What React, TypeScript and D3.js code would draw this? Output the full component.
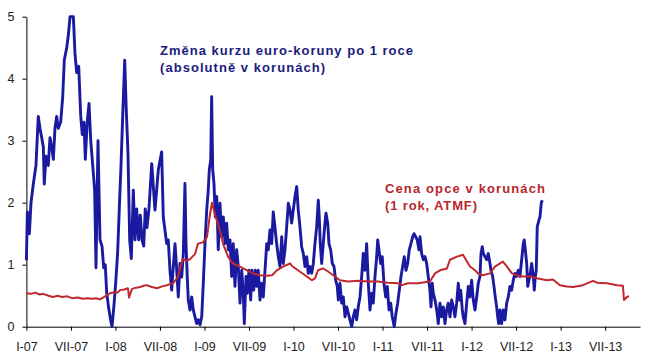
import * as d3 from "d3"
import { useRef, useEffect } from "react"

// months counted from January 2007, values in CZK
const blueSeries: [number, number][] = [
  [0, 1.07], [0.13, 1.85], [0.4, 1.5], [0.62, 2.0], [0.93, 2.3], [1.29, 2.6], [1.6, 3.39], [1.83, 3.2], [2.06, 3.05], [2.28, 2.9], [2.41, 2.3], [2.64, 2.75], [2.95, 2.6], [3.18, 3.05], [3.41, 2.9], [3.63, 2.7], [3.85, 3.2], [4.08, 3.39], [4.3, 3.2], [4.62, 3.3], [4.89, 3.7], [5.11, 4.3], [5.43, 4.5], [5.65, 4.7], [5.88, 5.0], [6.33, 5.0], [6.55, 4.4], [6.78, 4.1], [7.05, 4.2], [7.32, 3.4], [7.53, 3.1], [7.76, 3.3], [7.94, 2.7], [8.2, 3.3], [8.44, 3.6], [8.67, 3.0], [8.94, 2.6], [9.2, 2.2], [9.38, 0.95], [9.65, 3.0], [9.92, 1.4], [10.19, 1.3], [10.42, 0.95], [10.63, 1.0], [10.82, 0.55], [11.09, 0.3], [11.36, 0.1], [11.54, 0], [11.77, 0.3], [12.03, 0.7], [12.3, 1.2], [12.52, 1.9], [12.75, 2.6], [12.98, 3.4], [13.25, 4.3], [13.46, 3.5], [13.69, 2.8], [13.92, 1.4], [14.14, 1.1], [14.41, 2.2], [14.64, 1.4], [14.86, 1.9], [15.13, 1.4], [15.35, 1.8], [15.58, 1.4], [15.81, 1.3], [16.02, 1.9], [16.25, 1.6], [16.52, 1.9],
  [16.89, 2.63], [17.33, 1.88], [17.78, 2.53], [18.23, 2.82], [18.45, 1.77], [18.91, 1.34], [19.12, 1.4], [19.35, 0.91], [19.58, 0.59], [19.8, 0.97], [20.03, 1.34], [20.26, 0.91], [20.47, 0.48], [20.7, 1.02], [20.93, 0.8], [21.15, 1.18], [21.37, 2.31], [21.51, 1.34], [21.68, 0.8], [21.82, 0.43], [22.05, 0.27], [22.28, 0.48], [22.49, 0.27], [22.72, 0.16], [22.95, 0.05], [23.17, 0.11], [23.4, 0.03], [23.63, 0.16], [23.84, 0.7], [24.07, 1.34], [24.3, 1.88], [24.51, 2.2], [24.65, 2.53], [24.84, 2.69], [24.97, 3.71], [25.11, 2.53], [25.28, 2.31], [25.46, 1.77], [25.65, 2.1], [25.86, 1.24], [26.09, 1.99], [26.32, 1.45], [26.54, 1.77], [26.77, 1.34], [26.99, 1.67], [27.21, 1.24], [27.44, 1.4], [27.67, 0.81], [27.88, 1.34], [28.11, 0.65], [28.34, 1.24], [28.56, 0.97], [28.79, 0.38], [29.02, 0.91], [29.23, 0.54], [29.37, 0.05], [29.6, 0.81], [29.77, 0.54], [30.0, 0.91], [30.23, 0.43], [30.4, 0.91], [30.63, 0.59], [30.85, 0.91], [31.04, 0.65], [31.25, 0.91], [31.48, 0.43], [31.71, 0.7], [31.93, 0.48], [32.16, 0.91], [32.39, 1.34], [32.6, 1.24], [32.83, 1.56], [33.06, 1.34], [33.27, 1.85], [33.5, 1.6], [33.73, 1.34], [33.95, 1.13], [34.18, 0.97], [34.41, 1.45], [34.62, 1.02], [34.85, 1.24], [35.08, 1.61], [35.3, 1.99],
  [35.53, 1.88], [35.75, 1.67], [35.97, 1.88], [36.2, 2.1], [36.43, 2.26], [36.64, 1.88], [36.87, 1.61], [37.1, 1.29], [37.32, 1.18], [37.55, 0.97], [37.78, 1.13], [37.99, 0.86], [38.22, 0.97], [38.45, 0.86], [38.67, 1.02], [38.89, 1.34], [39.12, 1.61], [39.34, 2.04], [39.47, 1.77], [39.61, 1.34], [39.8, 1.02], [40.01, 1.34], [40.24, 1.67], [40.38, 1.83], [40.61, 1.67], [40.78, 1.34], [41.01, 1.24], [41.23, 1.02], [41.46, 0.97], [41.68, 0.75], [41.9, 0.65], [42.04, 0.43], [42.26, 0.7], [42.49, 0.38], [42.71, 0.48], [42.94, 0.16], [43.17, 0.32], [43.38, 0.22], [43.61, 0.11], [43.84, 0], [44.06, 0.16], [44.29, 0.27], [44.51, 0.11], [44.73, 0.32], [44.96, 0.48], [45.19, 0.81], [45.4, 1.18], [45.63, 0.91], [45.86, 1.34], [46.08, 0.7], [46.31, 0.27], [46.54, 0.54], [46.75, 0.38], [46.98, 0.81], [47.21, 1.13], [47.35, 1.4], [47.52, 1.24], [47.75, 1.02], [47.96, 1.13], [48.19, 0.7], [48.42, 0.48], [48.64, 0.65], [48.87, 0.27], [49.1, 0.38], [49.31, 0.16], [49.58, 0], [49.81, 0.22], [50.04, 0.38], [50.26, 0.59], [50.49, 0.81], [50.71, 0.97], [50.93, 1.13], [51.16, 0.91], [51.39, 1.02], [51.6, 1.24], [51.83, 1.34], [52.06, 1.45], [52.24, 1.5], [52.47, 1.45], [52.68, 1.4], [52.91, 1.24],
  [53.05, 1.45], [53.27, 1.18], [53.49, 1.08], [53.72, 1.13], [53.95, 1.02], [54.16, 0.81], [54.39, 0.59], [54.53, 0.32], [54.7, 0.7], [54.84, 0.54], [55.07, 0.43], [55.3, 0.27], [55.51, 0.05], [55.74, 0.38], [55.97, 0.16], [56.19, 0.32], [56.41, 0.05], [56.64, 0.27], [56.86, 0.38], [57.09, 0.16], [57.32, 0.43], [57.53, 0.32], [57.76, 0.16], [57.99, 0.38], [58.21, 0.7], [58.34, 0.43], [58.53, 0.59], [58.75, 0.27], [58.88, 0.16], [59.11, 0.05], [59.34, 0.38], [59.56, 0.65], [59.78, 0.48], [60.01, 0.75], [60.23, 0.43], [60.46, 0.27], [60.69, 0.48], [60.9, 0.7], [61.13, 0.81], [61.27, 1.18], [61.44, 1.29], [61.58, 1.18], [61.81, 1.13], [62.04, 1.08], [62.25, 1.18], [62.48, 1.02], [62.61, 0.91], [62.84, 0.81], [63.02, 0.65], [63.19, 0.48], [63.38, 0.32], [63.52, 0.16], [63.65, 0.05], [63.83, 0.27], [64.05, 0.05], [64.27, 0.27], [64.5, 0.11], [64.73, 0.38], [64.95, 0.48], [65.17, 0.65], [65.4, 0.59], [65.62, 0.75], [65.85, 0.86], [66.07, 0.81], [66.29, 0.91], [66.52, 0.81], [66.75, 1.08], [66.97, 1.34], [67.1, 1.4], [67.24, 1.24], [67.43, 1.02], [67.57, 0.65], [67.74, 0.75], [67.91, 0.86], [68.1, 1.02], [68.32, 0.81], [68.45, 0.59], [68.59, 0.81], [68.72, 0.91], [68.85, 1.61], [69.08, 1.72], [69.22, 1.77], [69.39, 1.99], [69.53, 2.04],
]

const redSeries: [number, number][] = [
  [0, 0.54], [0.6, 0.53], [1.2, 0.55], [1.8, 0.52], [2.24, 0.53], [3.0, 0.5], [3.58, 0.48], [4.2, 0.5], [4.8, 0.48], [5.5, 0.49], [6.15, 0.46], [6.9, 0.47], [7.63, 0.45], [8.2, 0.46], [8.8, 0.45], [9.4, 0.46], [9.92, 0.44], [10.32, 0.47], [10.8, 0.5], [11.27, 0.54], [11.94, 0.56], [12.3, 0.55], [12.61, 0.59], [13.2, 0.6], [13.69, 0.62], [13.83, 0.47], [14.23, 0.61], [14.8, 0.63], [15.31, 0.64], [15.8, 0.66], [16.25, 0.67], [16.9, 0.64], [17.6, 0.62], [18.3, 0.65], [18.95, 0.67], [19.76, 0.7], [20.43, 0.8], [20.84, 1.0], [21.1, 1.09], [21.6, 1.06], [22.05, 1.09], [22.72, 1.17], [23.13, 1.34], [23.8, 1.36], [24.34, 1.45], [24.74, 1.81], [25.01, 2.0], [25.42, 1.81], [26.09, 1.55], [26.5, 1.34], [27.17, 1.13], [27.84, 1.02], [28.79, 0.97], [29.73, 0.91], [30.54, 0.86], [31.48, 0.83], [32.43, 0.82], [33.1, 0.83], [33.77, 0.91], [34.58, 0.97], [35.53, 1.02], [35.8, 0.98], [36.6, 0.91], [37.55, 0.83], [38.49, 0.75], [38.89, 0.78], [39.3, 0.91], [39.97, 0.94], [40.65, 0.89], [41.59, 0.81], [42.26, 0.75], [43.34, 0.73], [44.69, 0.74], [46.04, 0.73], [47.39, 0.73], [48.73, 0.71], [50.08, 0.7], [50.62, 0.67], [51.43, 0.7], [52.78, 0.7], [54.39, 0.73], [55.07, 0.86], [55.74, 0.91], [56.68, 0.94], [57.09, 1.08], [58.03, 1.13], [58.84, 1.16], [59.38, 1.05], [59.78, 0.97], [60.46, 0.91], [60.86, 0.86], [61.54, 0.83], [62.48, 0.86], [63.15, 0.97], [63.83, 1.02], [64.23, 1.05], [64.77, 0.97], [65.44, 0.86], [66.12, 0.83], [66.93, 0.81], [67.88, 0.81], [68.81, 0.78], [70.16, 0.75], [70.97, 0.76], [71.91, 0.67], [72.86, 0.65], [73.67, 0.64], [75.01, 0.67], [76.36, 0.74], [76.9, 0.71], [78.25, 0.7], [79.6, 0.67], [80.4, 0.66], [80.54, 0.43], [80.94, 0.48], [81.21, 0.49],
]

const tickMonths = [0, 6, 12, 18, 24, 30, 36, 42, 48, 54, 60, 66, 72, 78]
const tickLabels = ["I-07", "VII-07", "I-08", "VII-08", "I-09", "VII-09", "I-10", "VII-10", "I-11", "VII-11", "I-12", "VII-12", "I-13", "VII-13"]
const yTicks = [0, 1, 2, 3, 4, 5]

const blueTitle = ["Změna kurzu euro-koruny po 1 roce", "(absolutně v korunách)"]
const redTitle = ["Cena opce v korunách", "(1 rok, ATMF)"]

export default function App() {
  const gx = useRef<SVGGElement>(null)
  const gy = useRef<SVGGElement>(null)

  const width = 656
  const height = 364

  const x = d3.scaleLinear().domain([0, 82.7]).range([26.4, 640])
  const y = d3.scaleLinear().domain([0, 5]).range([326.7, 16.7])

  const line = d3
    .line<[number, number]>()
    .x((d) => x(d[0]))
    .y((d) => y(d[1]))

  useEffect(() => {
    if (gx.current) {
      const g = d3.select(gx.current)
      g.call(
        d3
          .axisBottom(x)
          .tickValues(tickMonths)
          .tickFormat((_, i) => tickLabels[i])
          .tickSize(4)
          .tickSizeOuter(0)
          .tickPadding(11)
      )
      g.selectAll("text")
        .attr("font-family", "'Liberation Sans', Arial, sans-serif")
        .attr("font-size", 12.5)
        .attr("fill", "#222")
      g.selectAll("path,line").attr("stroke", "#000")
    }
    if (gy.current) {
      const g = d3.select(gy.current)
      g.call(
        d3
          .axisLeft(y)
          .tickValues(yTicks)
          .tickFormat(d3.format("d"))
          .tickSize(4)
          .tickSizeOuter(0)
          .tickPadding(8)
      )
      g.selectAll("text")
        .attr("font-family", "'Liberation Sans', Arial, sans-serif")
        .attr("font-size", 12.5)
        .attr("fill", "#222")
      g.selectAll("path,line").attr("stroke", "#000")
    }
  }, [x, y])

  return (
    <div style={{ position: "fixed", left: 0, top: 0 }}>
      <svg width={width} height={height} style={{ display: "block", background: "#fff" }}>
        <g ref={gx} transform={`translate(0,${y(0)})`} />
        <g ref={gy} transform={`translate(${x(0)},0)`} />

        <path
          d={line(blueSeries) ?? undefined}
          fill="none"
          stroke="#1a1aa0"
          strokeWidth={2.9}
          strokeLinejoin="round"
        />
        <path
          d={line(redSeries) ?? undefined}
          fill="none"
          stroke="#c0282d"
          strokeWidth={2}
          strokeLinejoin="round"
        />

        <g fontFamily="'Liberation Sans', Arial, sans-serif" fontWeight="bold" fontSize={13}>
          <text x={160} y={55} fill="#1b1b7c" textLength={253} lengthAdjust="spacing">
            {blueTitle[0]}
          </text>
          <text x={160} y={72} fill="#1b1b7c" textLength={165} lengthAdjust="spacing">
            {blueTitle[1]}
          </text>
          <text x={385} y={193} fill="#b8262c" textLength={160} lengthAdjust="spacing">
            {redTitle[0]}
          </text>
          <text x={385} y={210} fill="#b8262c" textLength={92} lengthAdjust="spacing">
            {redTitle[1]}
          </text>
        </g>
      </svg>
    </div>
  )
}
